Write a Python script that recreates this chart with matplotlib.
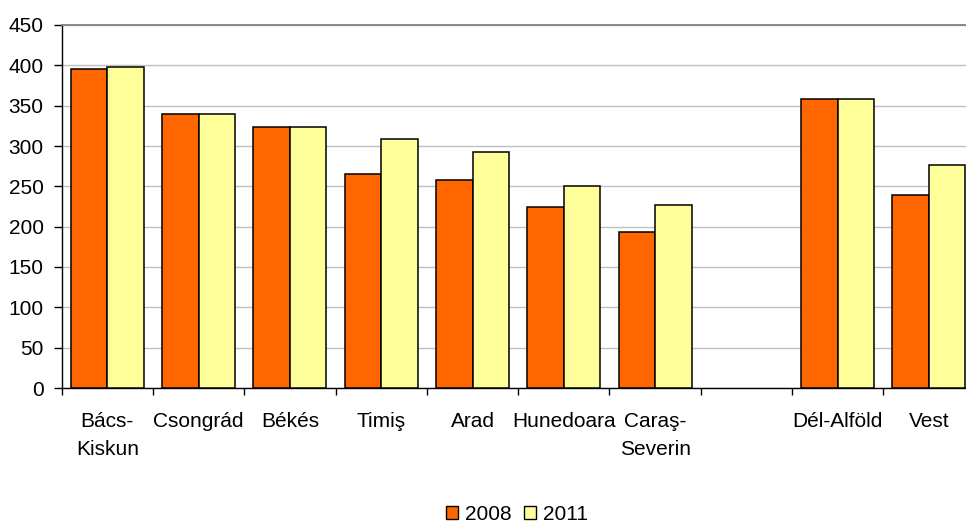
import numpy as np
import matplotlib
matplotlib.use("Agg")
import matplotlib.pyplot as plt
from matplotlib.patches import Patch

categories = ["Bács-\nKiskun", "Csongrád", "Békés", "Timiş", "Arad", "Hunedoara",
              "Caraş-\nSeverin", "", "Dél-Alföld", "Vest"]
values_2008 = [395, 340, 324, 265, 258, 225, 193, np.nan, 358, 239]
values_2011 = [398, 340, 324, 309, 292, 250, 227, np.nan, 358, 277]
series_names = ["2008", "2011"]
yticks = [0, 50, 100, 150, 200, 250, 300, 350, 400, 450]

plt.rcParams['font.family'] = ['Liberation Sans', 'DejaVu Sans']

W, H = 966, 523
fig = plt.figure(figsize=(W / 100, H / 100), dpi=100)
ax = fig.add_axes([61.7 / W, 1 - 388 / H, (974.6 - 61.7) / W, (388 - 25) / H])

x = np.arange(len(categories))
bw = 0.4
c1, c2 = "#FF6600", "#FFFF99"
ax.bar(x - bw / 2, values_2008, bw, color=c1, edgecolor="black", linewidth=1.1, zorder=3)
ax.bar(x + bw / 2, values_2011, bw, color=c2, edgecolor="black", linewidth=1.1, zorder=3)

ax.set_xlim(-0.5, len(categories) - 0.5)
ax.set_ylim(0, 450)
ax.set_yticks(yticks)
ax.set_yticklabels([str(t) for t in yticks], fontsize=15)
ax.yaxis.grid(True, color="#C0C0C0", linewidth=1.0, zorder=0)
ax.set_axisbelow(True)

# category boundaries as ticks, labels at centres
ax.set_xticks(np.arange(len(categories) + 1) - 0.5)
ax.set_xticklabels([])
ax.set_xticks(x, minor=True)
ax.set_xticklabels(categories, minor=True, fontsize=15, linespacing=1.65, va="top")
ax.tick_params(axis="x", which="minor", length=0, pad=17)
ax.tick_params(axis="x", which="major", length=5, width=1, direction="out", color="black")
ax.tick_params(axis="y", length=6, width=1, direction="out", pad=7, color="black")

ax.spines["right"].set_visible(False)
ax.spines["top"].set_color("#808080")
ax.spines["top"].set_linewidth(1.3)
ax.spines["left"].set_color("black")
ax.spines["bottom"].set_color("black")
ax.spines["left"].set_linewidth(1.0)
ax.spines["bottom"].set_linewidth(1.0)

handles = [Patch(facecolor=c1, edgecolor="black", linewidth=1.0),
           Patch(facecolor=c2, edgecolor="black", linewidth=1.0)]
fig.legend(handles, series_names, loc="center", bbox_to_anchor=(517 / W, 1 - 514 / H),
           ncol=2, frameon=False, fontsize=15, handlelength=0.6, handleheight=0.6,
           handletextpad=0.35, columnspacing=0.55)

fig.savefig("out.png", dpi=100)
